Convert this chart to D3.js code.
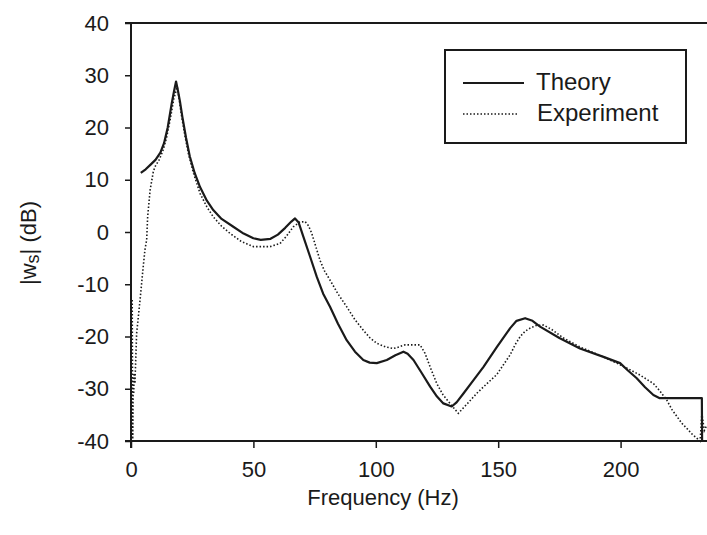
<!DOCTYPE html>
<html><head><meta charset="utf-8">
<script src="https://cdn.jsdelivr.net/npm/d3@7"></script>
<style>
body{margin:0;background:#fff;}
svg{display:block;font-family:"Liberation Sans",Arial,sans-serif;}
</style></head>
<body>
<svg id="chart" width="707" height="535"></svg>
<script>
const xTicks = [0, 50, 100, 150, 200];
const yTicks = [-40, -30, -20, -10, 0, 10, 20, 30, 40];
const seriesNames = ["Theory", "Experiment"];
const theoryFreq = [4, 6, 8, 10, 12, 13.5, 15, 16.6, 17.6, 18.4, 19.2, 20, 21, 22.5, 24, 26, 28.2, 31, 33.6, 37, 41.8, 46, 50, 53, 57, 60, 63, 65.5, 67, 68.5, 70.4, 73, 75.9, 78.5, 81.3, 84.5, 88.1, 91.5, 94.9, 97.5, 100.4, 104.5, 108, 111.3, 113, 115.4, 118.5, 122.2, 125, 127.6, 131, 133, 135.8, 140, 144, 149.5, 154.9, 157.5, 161, 164, 167.1, 175, 183.4, 193, 199.8, 203, 206.6, 210, 213.4, 216, 220.2, 233.2, 233.3];
const theoryDb = [11.3, 12, 12.9, 13.8, 15.2, 17, 20, 24.5, 27, 28.8, 27, 25, 22, 18, 14.5, 11.3, 8.6, 6, 4.2, 2.5, 1.0, -0.3, -1.2, -1.5, -1.3, -0.5, 0.8, 2, 2.6, 1.8, -0.9, -4.5, -8.6, -11.8, -14.3, -17.5, -20.7, -22.9, -24.5, -25, -25.1, -24.5, -23.6, -22.9, -23.3, -24.5, -26.8, -29.6, -31.5, -32.8, -33.4, -32.6, -30.9, -28.3, -25.8, -22, -18.4, -17, -16.5, -17, -18.1, -20.3, -22.3, -23.9, -25.1, -26.5, -28, -29.7, -31.2, -31.8, -31.8, -31.8, -40];
const expFreq = [0.5, 0.7, 0.9, 1.1, 1.3, 1.6, 2.3, 3.7, 5.0, 5.7, 6.4, 6.8, 7.8, 9.1, 9.8, 11.5, 13, 14.5, 16, 17.5, 18.9, 19.8, 20.7, 22, 23.4, 25.5, 28.2, 31, 33.6, 37, 40.4, 45, 50, 56.8, 60.9, 63.5, 66.3, 69, 71.1, 72.5, 73.8, 75.5, 77.2, 79, 81.3, 84.5, 88.1, 91.5, 94.9, 97.5, 100.4, 104, 107.2, 109.5, 111.9, 118.1, 120.1, 122.5, 124.9, 127.5, 130.3, 133.7, 137.5, 141.2, 145, 149.4, 152, 154.9, 157, 159, 161, 163, 165.5, 168.5, 172, 176.7, 183.4, 193, 199.8, 204, 208, 213.4, 216, 218.9, 221, 223, 225, 227.1, 229, 230.5, 232.5, 233.2, 234.2, 235.2];
const expDb = [-13, -40, -28, -31, -27, -29, -19.4, -13, -6.6, -3.4, -1.5, 2.9, 8.0, 11.5, 12.5, 13.8, 15.5, 18, 21.5, 25.5, 27.8, 25, 22.1, 18.5, 15.1, 11.3, 7.4, 4.8, 2.9, 1.1, -0.25, -1.8, -2.8, -2.8, -2.2, -0.8, 1.0, 1.9, 2.0, 1.2, -0.2, -2.8, -5.4, -7.4, -9.2, -11.8, -14.3, -16.8, -18.8, -20.2, -21.3, -22, -22.3, -22, -21.6, -21.6, -23.2, -26.2, -29, -31.2, -32.8, -34.7, -32.8, -30.9, -29.2, -27.3, -25.5, -23.5, -21.5, -20.0, -19, -18.4, -17.9, -17.8, -18.7, -20.3, -22, -23.9, -25.4, -26.4, -27.4, -29, -30.4, -32.2, -34, -35.3, -36.6, -37.6, -38.6, -39.2, -40, -34.7, -38, -37];

const svg = d3.select("#chart");
const x = d3.scaleLinear().domain([0, 235.3]).range([131, 707]);
const y = d3.scaleLinear().domain([-40, 40]).range([441, 23]);
const ink = "#1a1a1a";
const fs = 22;
const fmt = d => String(d);

svg.append("line").attr("x1", 125).attr("x2", 707).attr("y1", y(40)).attr("y2", y(40)).attr("stroke", ink).attr("stroke-width", 2);

const gy = svg.append("g").attr("transform", `translate(${x(0)},0)`)
  .call(d3.axisLeft(y).tickValues(yTicks).tickFormat(fmt).tickSize(6).tickPadding(16).tickSizeOuter(0));
gy.select(".domain").remove();
gy.selectAll("line").attr("stroke", ink).attr("stroke-width", 1.5);
gy.selectAll("text").attr("font-size", fs).attr("fill", ink).attr("font-family", "Liberation Sans, Arial, sans-serif");

const gx = svg.append("g").attr("transform", `translate(0,${y(-40)})`)
  .call(d3.axisBottom(x).tickValues(xTicks).tickFormat(fmt).tickSize(7).tickPadding(13).tickSizeOuter(0));
gx.select(".domain").remove();
gx.selectAll("line").attr("stroke", ink).attr("stroke-width", 1.5);
gx.selectAll("text").attr("font-size", fs).attr("fill", ink).attr("font-family", "Liberation Sans, Arial, sans-serif");

svg.append("line").attr("x1", x(0)).attr("x2", x(0)).attr("y1", y(40)).attr("y2", y(-40) + 7).attr("stroke", ink).attr("stroke-width", 2);
svg.append("line").attr("x1", 125).attr("x2", 707).attr("y1", y(-40)).attr("y2", y(-40)).attr("stroke", ink).attr("stroke-width", 2);

const line = d3.line().x(d => x(d[0])).y(d => y(d[1]));
const theory = theoryFreq.map((f, i) => [f, theoryDb[i]]);
const exper = expFreq.map((f, i) => [f, expDb[i]]);

svg.append("path").datum(exper).attr("d", line).attr("fill", "none").attr("stroke", ink).attr("stroke-width", 1.6).attr("stroke-dasharray", "1.5,2");
svg.append("path").datum(theory).attr("d", line).attr("fill", "none").attr("stroke", ink).attr("stroke-width", 2.2).attr("stroke-linejoin", "round");

// legend
svg.append("rect").attr("x", 445).attr("y", 50).attr("width", 241).attr("height", 93).attr("fill", "#fff").attr("stroke", ink).attr("stroke-width", 2);
svg.append("line").attr("x1", 463).attr("x2", 524).attr("y1", 83).attr("y2", 83).attr("stroke", ink).attr("stroke-width", 2);
svg.append("line").attr("x1", 463).attr("x2", 517).attr("y1", 114).attr("y2", 114).attr("stroke", ink).attr("stroke-width", 1.6).attr("stroke-dasharray", "1.5,2");
svg.append("text").attr("x", 536).attr("y", 90).attr("font-size", 24).attr("fill", ink).text(seriesNames[0]);
svg.append("text").attr("x", 537).attr("y", 121).attr("font-size", 24).attr("fill", ink).text(seriesNames[1]);

// axis titles
svg.append("text").attr("x", 383).attr("y", 505).attr("text-anchor", "middle").attr("font-size", fs).attr("fill", ink).text("Frequency (Hz)");
const yl = svg.append("text").attr("transform", "translate(36,243) rotate(-90)").attr("text-anchor", "middle").attr("font-size", fs).attr("fill", ink);
yl.append("tspan").text("|w");
yl.append("tspan").attr("font-size", 18).attr("dy", 3).text("s");
yl.append("tspan").attr("dy", -3).text("| (dB)");
</script>
</body></html>
